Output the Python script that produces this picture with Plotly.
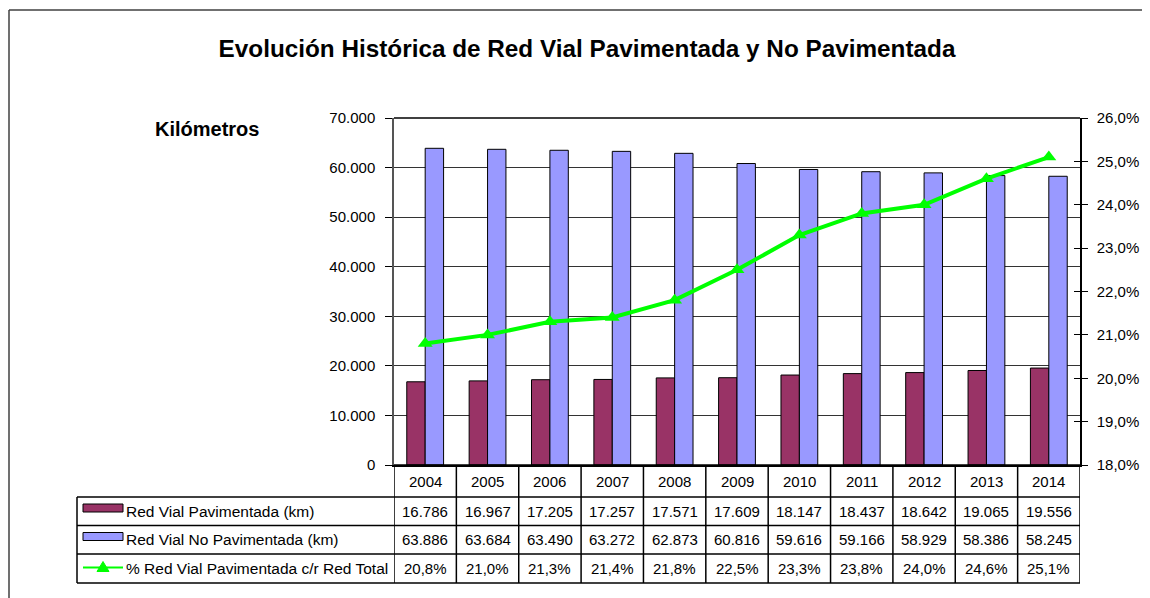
import plotly.graph_objects as go

years = ["2004", "2005", "2006", "2007", "2008", "2009", "2010", "2011", "2012", "2013", "2014"]
pavimentada = [16786, 16967, 17205, 17257, 17571, 17609, 18147, 18437, 18642, 19065, 19556]
no_pavimentada = [63886, 63684, 63490, 63272, 62873, 60816, 59616, 59166, 58929, 58386, 58245]
pct_pavimentada = [20.8, 21.0, 21.3, 21.4, 21.8, 22.5, 23.3, 23.8, 24.0, 24.6, 25.1]

series_names = ["Red Vial Pavimentada (km)", "Red Vial No Pavimentada (km)",
                "% Red Vial Pavimentada c/r Red Total"]
title_text = "Evolución Histórica de Red Vial Pavimentada y No Pavimentada"
y_title = "Kilómetros"

C_PAV = "#993366"
C_NOPAV = "#9999FF"
C_LINE = "#00FF00"
FONT = "Arial, Liberation Sans, sans-serif"

OFF = 8  # page body margin
W, H = 1150 - OFF, 598 - OFF
ML, MR, MT, MB = 394 - OFF, 70, 118 - OFF, 133
PW = W - ML - MR
PH = H - MT - MB


def px_x(px):
    return (px - 394) / PW


def px_y(py):
    return (465 - py) / PH


def fmt_km(v):
    return f"{v:,}".replace(",", ".")


def fmt_pct(v):
    return f"{v:.1f}".replace(".", ",") + "%"


fig = go.Figure()
fig.add_trace(go.Bar(x=years, y=pavimentada, name=series_names[0],
                     marker=dict(color=C_PAV, line=dict(color="black", width=1))))
fig.add_trace(go.Bar(x=years, y=no_pavimentada, name=series_names[1],
                     marker=dict(color=C_NOPAV, line=dict(color="black", width=1))))
fig.add_trace(go.Scatter(x=years, y=pct_pavimentada, name=series_names[2], yaxis="y2",
                         mode="lines+markers",
                         line=dict(color=C_LINE, width=4),
                         marker=dict(symbol="triangle-up", size=13, color=C_LINE)))
# helper trace for inner tick marks on the right axis
fig.add_trace(go.Scatter(x=years, y=pct_pavimentada, yaxis="y3", mode="lines",
                         opacity=0, hoverinfo="skip", showlegend=False))

shapes = []
annotations = []
TXT = dict(size=15, color="black", family=FONT)

row_tops = [465, 497, 525.5, 554, 583]
for i in range(len(years) + 1):
    shapes.append(dict(type="line", xref="x", yref="paper",
                       x0=i - 0.5, x1=i - 0.5, y0=px_y(465), y1=px_y(583),
                       line=dict(color="black", width=1.5)))
for k, py in enumerate(row_tops):
    x0 = px_x(77) if k >= 1 else 0
    shapes.append(dict(type="line", xref="paper", yref="paper",
                       x0=x0, x1=1, y0=px_y(py), y1=px_y(py),
                       line=dict(color="black", width=1.5)))
shapes.append(dict(type="line", xref="paper", yref="paper",
                   x0=px_x(77), x1=px_x(77), y0=px_y(497), y1=px_y(583),
                   line=dict(color="black", width=1.5)))

for i, yr in enumerate(years):
    annotations.append(dict(text=yr, xref="x", yref="paper", x=i, y=px_y(481),
                            xanchor="center", yanchor="middle",
                            showarrow=False, font=TXT))

rows = [[fmt_km(v) for v in pavimentada],
        [fmt_km(v) for v in no_pavimentada],
        [fmt_pct(v) for v in pct_pavimentada]]
centers = [511, 539.5, 568.5]
for r, row in enumerate(rows):
    for i, txt in enumerate(row):
        annotations.append(dict(text=txt, xref="x", yref="paper", x=i, y=px_y(centers[r]),
                                xanchor="center", yanchor="middle",
                                showarrow=False, font=TXT))
    annotations.append(dict(text=series_names[r], xref="paper", yref="paper",
                            x=px_x(124), y=px_y(centers[r]), xanchor="left", yanchor="middle",
                            showarrow=False, font=dict(size=15.5, color="black", family=FONT)))

# legend keys
for r, col in enumerate([C_PAV, C_NOPAV]):
    cy = centers[r] - 3
    shapes.append(dict(type="rect", xref="paper", yref="paper",
                       x0=px_x(83), x1=px_x(123), y0=px_y(cy - 4), y1=px_y(cy + 4),
                       fillcolor=col, line=dict(color="black", width=1)))
cy = centers[2] - 1
shapes.append(dict(type="line", xref="paper", yref="paper",
                   x0=px_x(83), x1=px_x(123), y0=px_y(cy), y1=px_y(cy),
                   line=dict(color=C_LINE, width=2)))
tri = f"M {px_x(97)} {px_y(cy + 4)} L {px_x(109)} {px_y(cy + 4)} L {px_x(103)} {px_y(cy - 6)} Z"
shapes.append(dict(type="path", xref="paper", yref="paper", path=tri,
                   fillcolor=C_LINE, line=dict(color=C_LINE, width=1)))

# outer chart border: top and left edges only (the rest lies outside the picture)
shapes.append(dict(type="line", xref="paper", yref="paper",
                   x0=px_x(9), x1=px_x(1160), y0=px_y(10), y1=px_y(10),
                   line=dict(color="#404040", width=1.5)))
shapes.append(dict(type="line", xref="paper", yref="paper",
                   x0=px_x(9), x1=px_x(9), y0=px_y(10), y1=px_y(610),
                   line=dict(color="#404040", width=1.5)))

annotations.append(dict(text=f"<b>{y_title}</b>", xref="paper", yref="paper",
                        x=px_x(207), y=px_y(129), xanchor="center", yanchor="middle",
                        showarrow=False, font=dict(size=20, color="black", family=FONT)))

fig.update_layout(
    width=W, height=H,
    margin=dict(l=ML, r=MR, t=MT, b=MB),
    paper_bgcolor="white", plot_bgcolor="white",
    separators=",.",
    barmode="group", bargap=0.41, bargroupgap=0,
    showlegend=False,
    font=dict(family=FONT, size=15, color="black"),
    title=dict(text=f"<b>{title_text}</b>", x=(587 - OFF) / W, xanchor="center",
               y=1 - (48 - OFF) / H, yanchor="middle",
               font=dict(size=24.3, color="black", family=FONT)),
    xaxis=dict(type="category", range=[-0.5, len(years) - 0.5], showticklabels=False,
               ticks="", showline=True, linecolor="black", linewidth=1.5,
               showgrid=False, zeroline=False, fixedrange=True),
    yaxis=dict(range=[0, 70000], dtick=10000, tickformat=",.0f",
               showgrid=True, gridcolor="#333333", gridwidth=1,
               showline=True, linecolor="#555555", linewidth=1.5,
               ticks="outside", ticklen=7, tickcolor="black", tickwidth=1,
               zeroline=False, tickfont=dict(size=15), ticklabelstandoff=7),
    yaxis2=dict(range=[18, 26], dtick=1, tickformat=".1f", ticksuffix="%",
                overlaying="y", side="right", showgrid=False, zeroline=False,
                showline=True, linecolor="black", linewidth=1.5,
                ticks="outside", ticklen=6, tickcolor="black", tickwidth=1,
                tickfont=dict(size=15), ticklabelstandoff=6),
    yaxis3=dict(range=[18, 26], dtick=1, overlaying="y", side="right",
                showgrid=False, zeroline=False, showticklabels=False,
                showline=False, ticks="inside", ticklen=6, tickcolor="black", tickwidth=1),
    shapes=shapes,
    annotations=annotations,
)
fig.add_shape(type="line", xref="paper", yref="paper", x0=0, x1=1, y0=1, y1=1,
              line=dict(color="black", width=1.5))

fig.write_html("out.html", config={"displayModeBar": False})
